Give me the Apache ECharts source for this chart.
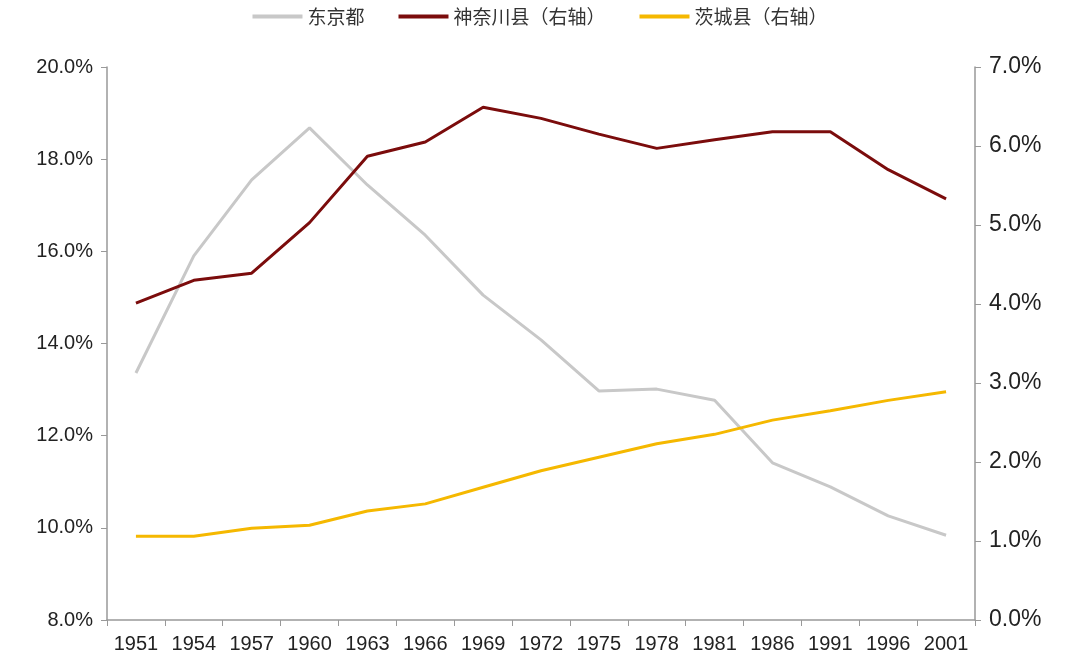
<!DOCTYPE html>
<html><head><meta charset="utf-8">
<script src="https://cdn.jsdelivr.net/npm/echarts@6/dist/echarts.min.js"></script>
<style>html,body{margin:0;background:#fff}#c{width:1080px;height:664px}</style>
</head><body><div id="c"></div>
<script>
const categories=['1951','1954','1957','1960','1963','1966','1969','1972','1975','1978','1981','1986','1991','1996','2001'];
const tokyo=[13.36,15.9,17.55,18.68,17.44,16.35,15.05,14.08,12.97,13.01,12.77,11.41,10.89,10.26,9.84];
const kanagawa=[4.01,4.30,4.39,5.03,5.87,6.05,6.49,6.35,6.15,5.97,6.08,6.18,6.18,5.70,5.33];
const ibaraki=[1.06,1.06,1.16,1.20,1.38,1.47,1.68,1.89,2.06,2.23,2.35,2.53,2.65,2.78,2.89];
const names=['东京都','神奈川县（右轴）','茨城县（右轴）'];
const font='"Liberation Sans", Arial, sans-serif';
const axisLine={show:true,lineStyle:{color:'#999',width:1.5}};
const chart=echarts.init(document.getElementById('c'));
chart.setOption({
  textStyle:{fontFamily:font},
  legend:{top:2,left:'center',itemWidth:50,itemHeight:4,itemGap:34,icon:'rect',
    textStyle:{fontSize:19,color:'#333',fontFamily:'"Noto Sans CJK SC"'},data:names},
  grid:{left:107,right:105,top:67,bottom:44},
  xAxis:{type:'category',data:categories,boundaryGap:true,axisLine:axisLine,
    axisTick:{show:true,alignWithLabel:false,length:6,lineStyle:{color:'#999'}},
    axisLabel:{fontSize:20,color:'#222',margin:14,interval:0}},
  yAxis:[
    {type:'value',min:8,max:20,interval:2,splitLine:{show:false},axisLine:axisLine,
     axisTick:{show:true,length:6,lineStyle:{color:'#999'}},
     axisLabel:{fontSize:20,color:'#222',margin:14,formatter:v=>v.toFixed(1)+'%'}},
    {type:'value',min:0,max:7,interval:1,splitLine:{show:false},axisLine:axisLine,
     axisTick:{show:true,length:6,lineStyle:{color:'#999'}},
     axisLabel:{fontSize:23,color:'#222',margin:14,formatter:v=>v.toFixed(1)+'%'}}
  ],
  series:[
    {name:names[0],type:'line',data:tokyo,yAxisIndex:0,symbol:'none',lineStyle:{color:'#c8c8c8',width:3},itemStyle:{color:'#c8c8c8'}},
    {name:names[1],type:'line',data:kanagawa,yAxisIndex:1,symbol:'none',lineStyle:{color:'#7b0c0c',width:3},itemStyle:{color:'#7b0c0c'}},
    {name:names[2],type:'line',data:ibaraki,yAxisIndex:1,symbol:'none',lineStyle:{color:'#f5b800',width:3},itemStyle:{color:'#f5b800'}}
  ]
});
</script></body></html>
